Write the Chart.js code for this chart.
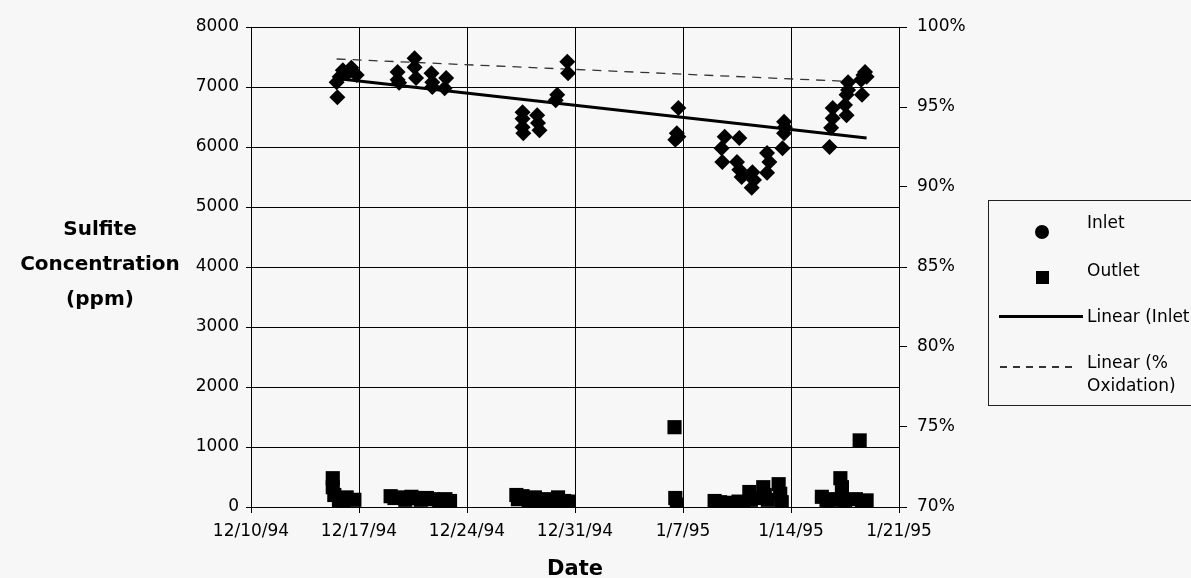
<!DOCTYPE html>
<html>
<head>
<meta charset="utf-8">
<script src="https://cdn.jsdelivr.net/npm/chart.js@4.4.1/dist/chart.umd.min.js"></script>
<style>
  html, body { margin: 0; padding: 0; background: #f7f7f7; }
  #wrap { position: relative; width: 1191px; height: 578px; overflow: hidden;
          font-family: 'DejaVu Sans', sans-serif; color: #000; }
  #chart { position: absolute; left: 0; top: 0; }
  #ytitle { position: absolute; left: 0; top: 211px; width: 200px; text-align: center;
            font-weight: bold; font-size: 20px; line-height: 35px; }
  #legend { position: absolute; left: 988px; top: 200px; width: 230px; height: 206px;
            border: 1px solid #222; box-sizing: border-box; }
  .lg-text { position: absolute; left: 1087px; font-size: 17px; line-height: 20px; white-space: nowrap; }
  .lg-circle { position: absolute; width: 14px; height: 14px; border-radius: 50%; background: #000; }
  .lg-square { position: absolute; width: 13px; height: 13px; background: #000; }
  .lg-line { position: absolute; height: 3px; background: #000; }
  .lg-dash { position: absolute; height: 2px;
             background: repeating-linear-gradient(to right, #333 0 7px, transparent 7px 13px); }
</style>
</head>
<body>
<div id="wrap">
  <canvas id="chart" width="1191" height="578"></canvas>
  <div id="ytitle">Sulfite<br>Concentration<br>(ppm)</div>

  <!-- Legende -->
  <div id="legend"></div>
  <div class="lg-text" style="top:212px">Inlet</div>
  <div class="lg-circle" style="left:1035px;top:225px"></div>
  <div class="lg-text" style="top:260px">Outlet</div>
  <div class="lg-square" style="left:1036px;top:271px"></div>
  <div class="lg-line" style="left:999px;top:315px;width:84px"></div>
  <div class="lg-text" style="top:306px">Linear (Inlet)</div>
  <div class="lg-dash" style="left:1000px;top:366px;width:76px"></div>
  <div class="lg-text" style="top:352px">Linear (%</div>
  <div class="lg-text" style="top:375px">Oxidation)</div>
</div>

<script>
// ── Daten (Tage seit 12/10/94) ──
const xTickLabels = ['12/10/94', '12/17/94', '12/24/94', '12/31/94', '1/7/95', '1/14/95', '1/21/95'];
const rightTickPct = [70, 75, 80, 85, 90, 95, 100];

const inletDay = [
  5.6, 5.55, 5.75, 5.95, 6.25, 6.5, 6.85,
  9.5, 9.5, 9.6, 10.6, 10.6, 10.7, 11.7, 11.75, 11.75, 12.65, 12.55,
  17.6, 17.6, 17.6, 17.65, 18.55, 18.6, 18.7,
  19.75, 19.85, 20.5, 20.55,
  27.7, 27.6, 27.5, 27.7,
  30.7, 30.5, 30.55, 31.65, 31.5, 31.65, 31.8, 32.5, 32.6, 32.45,
  33.45, 33.6, 33.45, 34.55, 34.55, 34.45, 34.6,
  37.5, 37.6, 37.7, 37.7, 38.6, 38.5, 38.6, 38.7, 38.7,
  39.6, 39.7, 39.8, 39.55, 39.9
];
const inletPpm = [
  6830, 7080, 7170, 7280, 7230, 7320, 7200,
  7250, 7120, 7070, 7480, 7330, 7150, 7230, 7080, 7000, 7150, 6980,
  6580, 6470, 6330, 6230, 6530, 6400, 6280,
  6780, 6870, 7420, 7230,
  6650, 6230, 6120, 6170,
  6170, 5980, 5750, 6150, 5750, 5620, 5500, 5580, 5450, 5320,
  5900, 5750, 5570, 6420, 6230, 5980, 6330,
  6000, 6320, 6480, 6650, 6530, 6700, 6870, 7080, 6950,
  6870, 7200, 7250, 7120, 7170
];

const outletDay = [
  5.3, 5.3, 5.4, 5.7, 6.0, 6.2, 6.7,
  9.05, 9.3, 9.6, 10.0, 10.4, 10.7, 11.0, 11.4, 11.8, 12.2, 12.6, 12.9,
  17.2, 17.3, 17.6, 18.0, 18.4, 18.7, 19.1, 19.5, 19.9, 20.3, 20.6,
  27.45, 27.5, 27.6,
  30.05, 30.4, 30.8, 31.2, 31.6, 31.9,
  32.3, 32.4, 32.7, 33.2, 33.3, 33.5, 34.2, 34.3, 34.4,
  37.0, 37.3, 37.5, 38.2, 38.3, 38.1, 38.5,
  39.45, 39.2, 39.6, 39.9, 39.7
];
const outletPpm = [
  480, 330, 200, 80, 100, 160, 120,
  180, 150, 160, 120, 170, 150, 120, 150, 130, 110, 130, 100,
  200, 130, 180, 100, 160, 90, 130, 80, 160, 100, 90,
  1330, 150, 40,
  100, 80, 60, 70, 90, 60,
  250, 120, 150, 330, 200, 120, 380, 220, 80,
  170, 80, 130, 480, 330, 120, 100,
  1110, 130, 100, 110, 60
];

// Trendlinien
const inletTrendDay = [5.55, 39.9];
const inletTrendPpm = [7140, 6150];
const oxTrendDay = [5.55, 39.9];
const oxTrendPct = [0.980, 0.9655];

const pts = (xs, ys) => xs.map((x, i) => ({ x, y: ys[i] }));

Chart.defaults.font.family = "'DejaVu Sans', sans-serif";
Chart.defaults.font.size = 17;
Chart.defaults.color = '#000';

new Chart(document.getElementById('chart'), {
  type: 'scatter',
  data: {
    datasets: [
      {
        label: 'Inlet',
        data: pts(inletDay, inletPpm),
        pointStyle: 'rectRot',
        pointRadius: 8,
        backgroundColor: '#000',
        borderWidth: 0,
        yAxisID: 'y'
      },
      {
        label: 'Outlet',
        data: pts(outletDay, outletPpm),
        pointStyle: 'rect',
        pointRadius: 10,
        backgroundColor: '#000',
        borderWidth: 0,
        yAxisID: 'y'
      },
      {
        label: 'Linear (Inlet)',
        data: pts(inletTrendDay, inletTrendPpm),
        showLine: true,
        pointRadius: 0,
        borderColor: '#000',
        borderWidth: 3,
        yAxisID: 'y'
      },
      {
        label: 'Linear (% Oxidation)',
        data: pts(oxTrendDay, oxTrendPct),
        showLine: true,
        pointRadius: 0,
        borderColor: '#333',
        borderWidth: 1.3,
        borderDash: [9, 7],
        yAxisID: 'y2'
      }
    ]
  },
  options: {
    responsive: false,
    animation: false,
    devicePixelRatio: 1,
    layout: { padding: { top: 27, left: 0, right: 0, bottom: 0 } },
    plugins: { legend: { display: false }, tooltip: { enabled: false } },
    scales: {
      x: {
        type: 'linear', min: 0, max: 42,
        afterFit: s => { s.height = 71; },
        afterBuildTicks: s => { s.ticks = xTickLabels.map((_, i) => ({ value: i * 7 })); },
        ticks: { callback: v => xTickLabels[Math.round(v / 7)], padding: 8, maxRotation: 0, autoSkip: false },
        grid: { color: '#000', lineWidth: 1, tickLength: 6 },
        border: { color: '#000' },
        title: { display: true, text: 'Date', font: { weight: 'bold', size: 21 }, padding: { top: 0, bottom: -4 } }
      },
      y: {
        position: 'left', min: 0, max: 8000,
        afterFit: s => { s.width = 251; },
        ticks: { stepSize: 1000, callback: v => String(v), padding: 7 },
        grid: { color: '#000', lineWidth: 1, tickLength: 5 },
        border: { color: '#000' }
      },
      y2: {
        position: 'right', min: 0.7, max: 1.0,
        afterFit: s => { s.width = 292; },
        afterBuildTicks: s => { s.ticks = rightTickPct.map(p => ({ value: p / 100 })); },
        ticks: { callback: v => Math.round(v * 100) + '%', padding: 10 },
        grid: { drawOnChartArea: false, color: '#000', tickLength: 8 },
        border: { color: '#000' }
      }
    }
  }
});
</script>
</body>
</html>
